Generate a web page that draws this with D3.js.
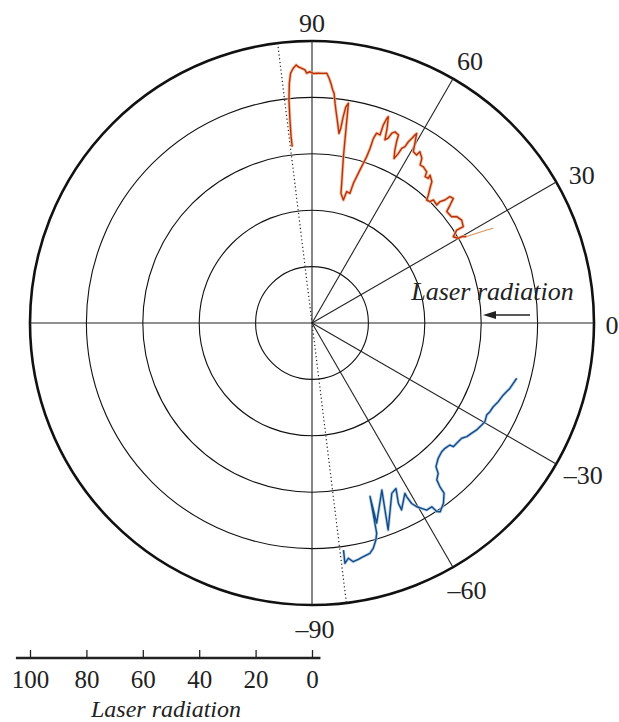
<!DOCTYPE html>
<html><head><meta charset="utf-8">
<script src="https://cdn.jsdelivr.net/npm/d3@7"></script>
<style>
html,body{margin:0;padding:0;background:#fff;}
svg text{font-family:"Liberation Serif","Times New Roman",serif;fill:#222;}
</style></head>
<body>
<svg id="c" width="619" height="722"></svg>
<script>
// ---- data ----
const gridAngles = [-90, -60, -30, 0, 30, 60, 90];
const angleLabels = ["\u201390", "\u201360", "\u201330", "0", "30", "60", "90"];
const ringValues = [20, 40, 60, 80, 100];
const axisTicks = [100, 80, 60, 40, 20, 0];
const beamAngle = 97; // dotted line direction (deg)

const redAngle = [96.4,96.4,96.2,95.9,95.4,94.9,94.2,93.5,93.1,92.3,91.6,91.2,90.5,89.7,88.6,87.4,86.6,86.0,85.5,84.9,84.5,84.0,83.6,82.9,81.9,81.6,81.4,81.1,80.6,79.3,78.0,77.4,75.7,75.2,73.7,73.5,72.6,71.8,
  71.6,71.6,71.2,70.1,70.2,69.9,69.7,68.9,68.3,67.6,67.2,66.5,65.3,65.0,64.4,63.5,63.0,62.8,62.2,62.0,61.6,61.3,61.1,60.2,59.4,58.1,57.8,56.3,55.6,54.5,52.8,52.3,51.2,51.4,49.7,48.8,47.7,47.0,45.8,45.4,43.4,43.5,42.8,42.5,41.4,40.5,39.6,
  37.3,36.3,34.5,32.5,32.7,31.4,30.1,30.0,29.2,28.6,28.0,27.6];
const redValue = [62.9,66.5,72.4,79.5,85.4,88.9,90.6,91.7,91.0,90.4,89.8,88.6,89.1,88.5,88.6,88.6,88.7,87.0,85.3,82.9,81.8,78.3,76.0,72.5,67.9,69.8,74.0,77.6,79.0,60.0,50.6,47.1,45.0,48.2,47.9,51.7,56.9,62.1,
  65.3,69.0,71.1,70.9,74.6,77.3,78.0,74.0,69.9,70.9,73.0,73.9,73.4,71.0,68.0,65.2,67.5,69.6,70.7,72.8,74.4,76.0,76.8,73.4,70.6,70.2,71.8,70.2,67.9,68.0,67.3,65.6,65.8,67.1,65.7,63.5,61.3,59.6,60.0,61.3,60.9,62.5,64.2,66.3,66.8,64.4,62.0,
  62.2,63.7,64.4,63.6,61.0,58.7,59.9,61.3,62.8,66.5,70.2,72.5];

const blueAngle = [-82.1,-82.2,-81.2,-80.2,-78.9,-77.6,-75.9,-74.8,-73.6,-72.9,-71.5,-72.1,-67.3,-69.8,-64.9,-63.1,-64.4,-64.4,-61.4,-61.4,-61.1,-60.3,-59.4,-58.5,-56.9,-56.5,-55.8,-53.9,-52.2,-52.0,-51.5,-50.0,-49.2,-47.0,-44.8,-43.3,-41.5,-41.2,-39.7,-37.6,-36.3,-34.6,-33.0,-31.0,-29.7,-27.8,-26.5,-24.8,-22.9,-20.6,-19.4,-18.3,-16.7,-15.1];
const blueValue = [81.3,86.0,84.4,85.9,85.4,84.8,84.2,82.8,80.2,78.0,64.9,74.6,64.2,78.2,66.7,65.8,70.9,73.5,68.8,70.2,73.1,75.0,76.4,77.8,77.8,80.2,80.9,79.1,76.4,73.7,71.1,69.6,67.3,65.6,64.8,64.8,65.3,66.6,66.7,67.0,68.1,68.8,69.6,70.2,70.6,70.0,70.5,70.8,71.7,72.5,73.2,73.9,74.5,75.2];

// ---- layout ----
const cx = 312, cy = 323, R = 282;
const labelDx = [3, 2.5, 7, -5, 5.5, 5.5, 0];
const labelDy = [1, 3, 0, 2, 4.8, 3, 6];
const svg = d3.select("#c");
const r = d3.scaleLinear().domain([0, 100]).range([0, R]);
const toRad = d => (90 - d) * Math.PI / 180; // d3 radial angle
const px = (deg, v) => cx + r(v) * Math.cos(deg * Math.PI / 180);
const py = (deg, v) => cy - r(v) * Math.sin(deg * Math.PI / 180);

const g = svg.append("g").attr("transform", `translate(${cx},${cy})`);

// rings
g.selectAll("circle.ring").data(ringValues).join("circle")
  .attr("class", "ring").attr("r", d => r(d)).attr("fill", "none")
  .attr("stroke", "#111").attr("stroke-width", d => d === 100 ? 2.6 : 1.1);

// radial lines
g.selectAll("line.spoke").data(gridAngles.concat([180])).join("line")
  .attr("x1", 0).attr("y1", 0)
  .attr("x2", d => r(100) * Math.cos(d * Math.PI / 180))
  .attr("y2", d => -r(100) * Math.sin(d * Math.PI / 180))
  .attr("stroke", "#222").attr("stroke-width", 1.1);

// dotted beam line
g.append("line")
  .attr("x1", r(100) * Math.cos(beamAngle * Math.PI / 180))
  .attr("y1", -r(100) * Math.sin(beamAngle * Math.PI / 180))
  .attr("x2", -r(100) * Math.cos(beamAngle * Math.PI / 180))
  .attr("y2", r(100) * Math.sin(beamAngle * Math.PI / 180))
  .attr("stroke", "#222").attr("stroke-width", 1.2).attr("stroke-dasharray", "1.2,2.6");

// curves
const line = d3.lineRadial().angle(d => toRad(d[0])).radius(d => r(d[1])).curve(d3.curveLinear);
const redData = redAngle.map((a, i) => [a, redValue[i]]);
const blueData = blueAngle.map((a, i) => [a, blueValue[i]]);
const redMain = redData.slice(0, redData.length - 3);
const redTail = redData.slice(redData.length - 4);

g.append("path").attr("d", line(redMain)).attr("fill", "none")
  .attr("stroke", "#f0b48c").attr("stroke-width", 3.2).attr("stroke-linejoin", "round").attr("opacity", 0.8);
g.append("path").attr("d", line(redMain)).attr("fill", "none")
  .attr("stroke", "#b8300c").attr("stroke-width", 1.4).attr("stroke-linejoin", "round");
g.append("path").attr("d", line(redTail)).attr("fill", "none")
  .attr("stroke", "#d9935f").attr("stroke-width", 1.1);

g.append("path").attr("d", line(blueData)).attr("fill", "none")
  .attr("stroke", "#a3c2e0").attr("stroke-width", 3.0).attr("stroke-linejoin", "round").attr("opacity", 0.8);
g.append("path").attr("d", line(blueData)).attr("fill", "none")
  .attr("stroke", "#124a86").attr("stroke-width", 1.4).attr("stroke-linejoin", "round");

// angle labels
const labR = 108.2;
svg.selectAll("text.alab").data(gridAngles).join("text")
  .attr("class", "alab")
  .attr("x", (d, i) => px(d, labR) + labelDx[i]).attr("y", (d, i) => py(d, labR) + labelDy[i])
  .attr("text-anchor", "middle").attr("dominant-baseline", "central")
  .attr("font-size", 26)
  .text((d, i) => angleLabels[i]);

// Laser radiation label + arrow
svg.append("text").attr("x", 492.5).attr("y", 300).attr("text-anchor", "middle")
  .attr("font-size", 26).attr("font-style", "italic").text("Laser radiation");
svg.append("line").attr("x1", 530).attr("y1", 315).attr("x2", 490).attr("y2", 315)
  .attr("stroke", "#222").attr("stroke-width", 1.4);
svg.append("path").attr("d", "M483,315 L496,311 L496,319 Z").attr("fill", "#222");

// bottom scale
const xs = d3.scaleLinear().domain([100, 0]).range([cx - R, cx]);
const axisY = 658;
const ax = svg.append("g").attr("transform", `translate(0,${axisY})`)
  .call(d3.axisBottom(xs).tickValues(axisTicks).tickSize(-8).tickSizeOuter(0).tickPadding(12));
ax.select(".domain").remove();
ax.selectAll(".tick line").attr("stroke", "#222").attr("stroke-width", 1.3);
ax.selectAll(".tick text").attr("font-size", 25).attr("fill", "#222")
  .attr("font-family", "'Liberation Serif',serif");
svg.append("line").attr("x1", xs(105)).attr("x2", xs(-3)).attr("y1", axisY).attr("y2", axisY)
  .attr("stroke", "#222").attr("stroke-width", 2.6);
svg.append("text").attr("x", 166).attr("y", 717).attr("text-anchor", "middle")
  .attr("font-size", 24).attr("font-style", "italic").text("Laser radiation");
</script>
</body></html>
